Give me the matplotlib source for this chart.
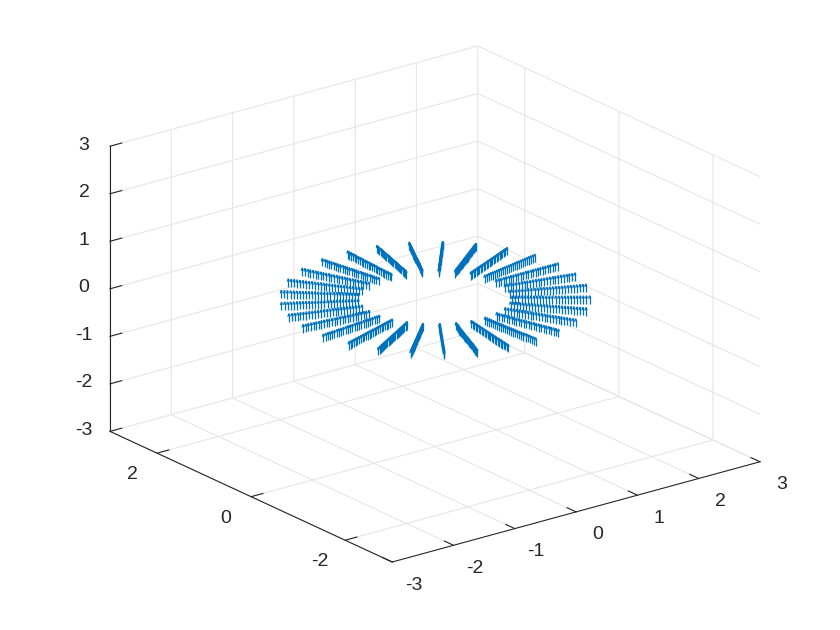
# coding:utf-8
import matplotlib
matplotlib.use('Agg')
import matplotlib.pyplot as plt
import numpy as np
from mpl_toolkits.mplot3d import proj3d

plt.rcParams['font.family'] = ['Liberation Sans', 'DejaVu Sans']
plt.rcParams['axes.unicode_minus'] = False

# 29 spokes
theta_deg = [0.0, 12.41, 24.83, 37.24, 49.66, 62.07, 74.48, 86.90, 99.31, 111.72,
             124.14, 136.55, 148.97, 161.38, 173.79, 186.21, 198.62, 211.03, 223.45,
             235.86, 248.28, 260.69, 273.10, 285.52, 297.93, 310.34, 322.76, 335.17, 347.59]
# radius of each arrow along a spoke
radius = [1.0, 1.04, 1.08, 1.12, 1.16, 1.2, 1.24, 1.28, 1.32, 1.36, 1.4, 1.44, 1.48,
          1.52, 1.56, 1.6, 1.64, 1.68, 1.72, 1.76, 1.8, 1.84, 1.88, 1.92, 1.96, 2.0]
arrow_height = 0.17

x_ticks = [-3, -2, -1, 0, 1, 2, 3]
y_ticks = [-2, 0, 2]
z_ticks = [-3, -2, -1, 0, 1, 2, 3]

t, r = np.meshgrid(np.radians(theta_deg), radius)
xs = (r * np.cos(t)).ravel()
ys = (r * np.sin(t)).ravel()
zs = np.zeros_like(xs)
ws = np.full_like(xs, arrow_height)

fig = plt.figure(figsize=(8.4, 6.3), dpi=100)
ax = fig.add_axes([0, 0, 1, 1], projection='3d', proj_type='ortho')
ax.apply_aspect = lambda position=None: None  # box is stretched like in the original
ax.set_box_aspect((1, 1, 1))
ax.view_init(elev=30, azim=-127.5)
ax.set_xlim(-3, 3)
ax.set_ylim(-3, 3)
ax.set_zlim(-3, 3)

ax.quiver(xs, ys, zs, 0 * xs, 0 * ys, ws, color='#0072BD', linewidth=0.9,
          arrow_length_ratio=0.35)

ax.set_xticks(x_ticks)
ax.set_yticks(y_ticks)
ax.set_zticks(z_ticks)
ax.tick_params(labelsize=14, colors='#262626')
ax.tick_params(axis='x', pad=11)
ax.tick_params(axis='y', pad=9)
ax.tick_params(axis='z', pad=2)
ax.zaxis.set_ticks_position('upper')
ax.zaxis.set_label_position('upper')
for lab in ax.get_xticklabels():
    lab.set_va('bottom')
for lab in ax.get_yticklabels():
    lab.set_va('baseline')
for lab in ax.get_zticklabels():
    lab.set_va('center')

for axis in [ax.xaxis, ax.yaxis, ax.zaxis]:
    axis.set_pane_color((1, 1, 1, 0))
    axis.pane.set_edgecolor('#e6e6e6')
    axis.line.set_color('#262626')
    axis.line.set_linewidth(0.8)
    axis._axinfo['grid']['color'] = '#e6e6e6'
    axis._axinfo['grid']['linewidth'] = 0.8
    axis._axinfo['tick']['inward_factor'] = 0.0
    axis._axinfo['tick']['outward_factor'] = 0.4
    axis._axinfo['tick']['linewidth'] = {True: 0.8, False: 0.5}


def place_box():
    # stretch the axes so that two box corners land where they are in the original
    fig.canvas.draw()
    M = ax.get_proj()
    pts = {}
    for name, c in {'left': (-3, 3, -3), 'right': (3, -3, -3),
                    'bottom': (-3, -3, -3), 'top': (3, 3, 3)}.items():
        px, py, _ = proj3d.proj_transform(c[0], c[1], c[2], M)
        pts[name] = ax.transAxes.inverted().transform(ax.transData.transform((px, py)))
    w = 650 / (pts['right'][0] - pts['left'][0])
    l = 110 - w * pts['left'][0]
    h = 516 / (pts['top'][1] - pts['bottom'][1])
    b = (630 - 562) - h * pts['bottom'][1]
    ax.set_position([l / 840, b / 630, w / 840, h / 630])


place_box()
fig.savefig('out.png', dpi=100, facecolor='white')
